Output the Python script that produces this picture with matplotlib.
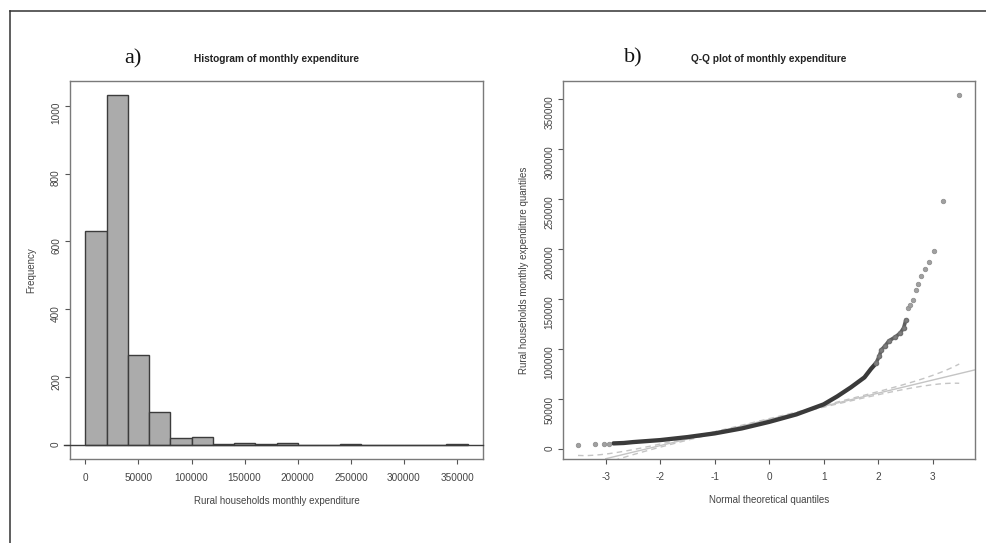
import numpy as np
import matplotlib
matplotlib.use("Agg")
import matplotlib.pyplot as plt
from matplotlib.lines import Line2D
from statistics import NormalDist

plt.rcParams["font.family"] = ["Liberation Sans", "DejaVu Sans"]
plt.rcParams["axes.unicode_minus"] = False

# --- histogram (bin counts, 20000-wide bins) ---
bin_edges = list(range(0, 360001, 20000))
counts = [632, 1032, 266, 97, 20, 25, 2, 5, 2, 5, 0, 0, 3, 0, 0, 0, 0, 2]
hist_xticks = [0, 50000, 100000, 150000, 200000, 250000, 300000, 350000]
hist_yticks = [0, 200, 400, 600, 800, 1000]

# --- Q-Q plot (theoretical quantile, sample value) ---
n_obs = 2100
body_z = [-2.86, -2.67, -2.5, -2.0, -1.5, -1.0, -0.5, 0.0, 0.5, 1.0, 1.25, 1.5, 1.75, 1.87, 1.96]
body_v = [6000, 6400, 7300, 9300, 12300, 16000, 21000, 27500, 35000, 45000, 53000, 62000, 72000, 80500, 86000]
upper_z = [1.96, 2.02, 2.06, 2.12, 2.2, 2.32, 2.41, 2.47, 2.51]
upper_v = [86000, 93000, 99500, 103000, 108500, 112500, 116500, 121500, 129500]
tail_z = [-3.51, -3.19, -3.04, -2.94,
          2.55, 2.58, 2.64, 2.70, 2.74, 2.79, 2.86, 2.94, 3.03, 3.20, 3.49]
tail_v = [4700, 5700, 5700, 5700,
          141500, 144500, 149100, 159800, 165100, 173800, 180500, 187500, 198500, 248200, 354300]
line_intercept, line_slope = 30000, 13100
qq_xticks = [-3, -2, -1, 0, 1, 2, 3]
qq_yticks = [0, 50000, 100000, 150000, 200000, 250000, 300000, 350000]

TXT = "#444444"
fig = plt.figure(figsize=(9.87, 5.43), dpi=100)
W, H = 987, 543


def style(ax):
    for s in ax.spines.values():
        s.set_color("#7a7a7a"); s.set_linewidth(1.0)
    ax.tick_params(direction="out", length=3.4, width=0.8, color="#555555",
                   labelsize=7.2, labelcolor=TXT)
    ax.tick_params(axis="x", pad=6.5)
    ax.tick_params(axis="y", labelrotation=90, pad=3)


def px_axes(x0, x1, y0, y1):
    return fig.add_axes([x0 / W, 1 - y1 / H, (x1 - x0) / W, (y1 - y0) / H])


# a) histogram
ax1 = px_axes(70, 483, 81, 459)
ax1.bar(bin_edges[:-1], counts, width=20000, align="edge", color="#ababab",
        edgecolor="#3c3c3c", linewidth=1.0, zorder=2)
ax1.plot([-20100, 374400], [0, 0], color="#3c3c3c", lw=1.0, clip_on=False, zorder=3)
ax1.set_xlim(-14400, 374400)
ax1.set_ylim(-41, 1073)
ax1.set_xticks(hist_xticks)
ax1.set_yticks(hist_yticks)
style(ax1)
ax1.set_xlabel("Rural households monthly expenditure", fontsize=7, color=TXT)
ax1.set_ylabel("Frequency", fontsize=7, color=TXT)
ax1.xaxis.set_label_coords(0.5, -0.11); ax1.xaxis.label.set_va("center")
ax1.yaxis.set_label_coords(-0.095, 0.5); ax1.yaxis.label.set_va("center")
ax1.text(0.5, 1.058, "Histogram of monthly expenditure", transform=ax1.transAxes,
         ha="center", va="center", fontsize=7.3, weight="bold", color="#222222")
ax1.text(0.1525, 1.058, "a)", transform=ax1.transAxes, ha="center", va="center",
         fontsize=16, family="Liberation Serif", color="#111111")

# b) Q-Q plot
ax2 = px_axes(563.3, 975, 81, 458.7)
nd = NormalDist()
zg = np.linspace(min(tail_z), max(tail_z), 300)
fit = line_intercept + line_slope * zg
se = np.array([(line_slope / nd.pdf(z)) * np.sqrt(nd.cdf(z) * (1 - nd.cdf(z)) / n_obs) for z in zg])
zz = nd.inv_cdf(0.975)
ax2.axline((0, line_intercept), slope=line_slope, color="#c4c4c4", lw=1.0, zorder=1)
ax2.plot(zg, fit + zz * se, color="#c4c4c4", lw=1.0, ls=(0, (4, 3)), zorder=1)
ax2.plot(zg, fit - zz * se, color="#c4c4c4", lw=1.0, ls=(0, (4, 3)), zorder=1)
ax2.plot(body_z, body_v, color="#3a3a3a", lw=3.1, solid_capstyle="round",
         solid_joinstyle="round", zorder=3)
ax2.plot(upper_z, upper_v, color="#5e5e5e", lw=2.6, marker="o", ms=3.0,
         mec="#707070", mfc="#808080", solid_capstyle="round", zorder=3)
ax2.plot(tail_z, tail_v, ls="none", marker="o", ms=3.2, mfc="#a0a0a0",
         mec="#909090", mew=0.6, zorder=3)
ax2.set_xlim(-3.78, 3.78)
ax2.set_ylim(-9300, 368300)
ax2.set_xticks(qq_xticks)
ax2.set_yticks(qq_yticks)
style(ax2)
ax2.set_xlabel("Normal theoretical quantiles", fontsize=7, color=TXT)
ax2.set_ylabel("Rural households monthly expenditure quantiles", fontsize=7, color=TXT)
ax2.xaxis.set_label_coords(0.5, -0.11); ax2.xaxis.label.set_va("center")
ax2.yaxis.set_label_coords(-0.0955, 0.5); ax2.yaxis.label.set_va("center")
ax2.text(0.5, 1.058, "Q-Q plot of monthly expenditure", transform=ax2.transAxes,
         ha="center", va="center", fontsize=7.3, weight="bold", color="#222222")
ax2.text(0.169, 1.06, "b)", transform=ax2.transAxes, ha="center", va="center",
         fontsize=16, family="Liberation Serif", color="#111111")

# outer frame (clipped at right and bottom as in the source)
fx, fy = 10.5 / W, 1 - 10.5 / H
fig.add_artist(Line2D([fx, 1.0], [fy, fy], transform=fig.transFigure, color="#333333", lw=1.1))
fig.add_artist(Line2D([fx, fx], [fy, 0.0], transform=fig.transFigure, color="#333333", lw=1.1))

fig.savefig("out.png", dpi=100)
